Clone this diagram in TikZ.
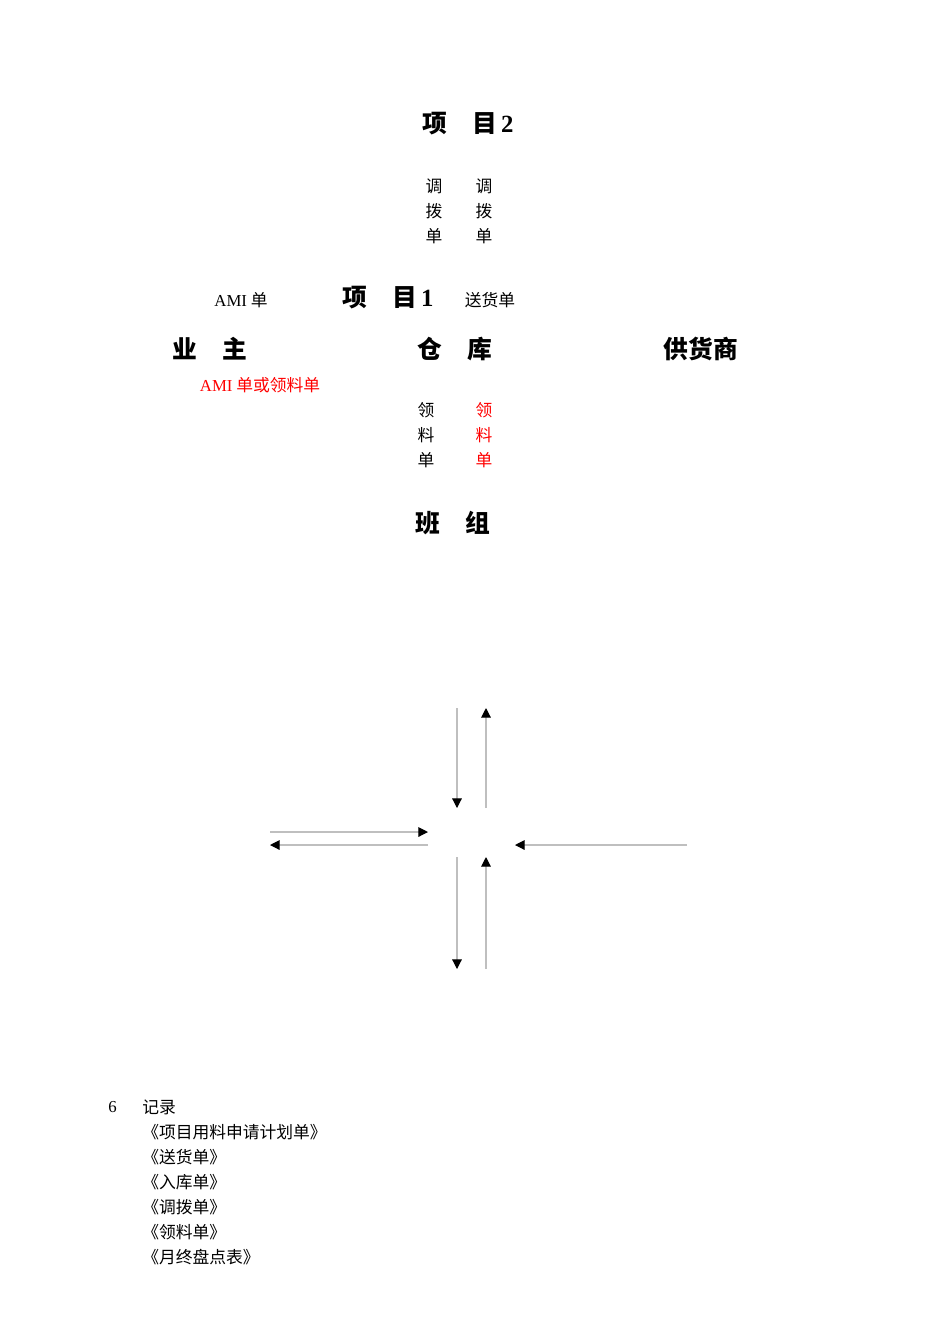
\documentclass[tikz,border=0pt]{standalone}
\usepackage{fontspec}
\usepackage{xcolor}
\usepackage{tikz}
\usetikzlibrary{arrows.meta}
\setmainfont{Liberation Serif}
\newfontfamily\cjk{Noto Sans CJK SC}

\tikzset{
  head/.style={font=\cjk\bfseries\fontsize{15.5}{18}\selectfont, inner sep=0pt},
  txt/.style={font=\cjk\fontsize{10.5}{15.7}\selectfont, inner sep=0pt, align=center},
  redtxt/.style={txt, text=red},
  flow/.style={draw=black!25, line width=0.7pt, -{Triangle[width=6pt,length=6pt,color=black]}}
}

\begin{document}
\begin{tikzpicture}[x=0.6263pt, y=-0.6263pt]
        \useasboundingbox (0,0) rectangle (950,1344);

        \node[head] (proj2) at (468,124) {项　目\,\rmfamily 2};
        \node[txt] (tiaoL) at (434,211) {调\\拨\\单};
        \node[txt] (tiaoR) at (484,211) {调\\拨\\单};

        \node[txt] (amiA) at (241,300) {{\rmfamily AMI} 单};
        \node[head] (proj1) at (388,298) {项　目\,\rmfamily 1};
        \node[txt] (song) at (490,300) {送货单};

        \node[head] (owner) at (210,349) {业　主};
        \node[head] (store) at (455,349) {仓　库};
        \node[head] (vendor) at (701,349) {供货商};

        \node[redtxt] (amiB) at (260,385) {{\rmfamily AMI} 单或领料单};
        \node[txt] (lingL) at (426,435) {领\\料\\单};
        \node[redtxt] (lingR) at (484,435) {领\\料\\单};

        \node[head] (team) at (453,523) {班　组};

        \coordinate (dn1s) at (457,708); \coordinate (dn1e) at (457,808);
        \coordinate (up1s) at (486,808); \coordinate (up1e) at (486,708);
        \coordinate (rt1s) at (270,832); \coordinate (rt1e) at (428,832);
        \coordinate (lf1s) at (428,845); \coordinate (lf1e) at (270,845);
        \coordinate (lf2s) at (687,845); \coordinate (lf2e) at (515,845);
        \coordinate (dn2s) at (457,857); \coordinate (dn2e) at (457,969);
        \coordinate (up2s) at (486,969); \coordinate (up2e) at (486,857);

        \draw[flow] (dn1s) -- (dn1e);
        \draw[flow] (up1s) -- (up1e);
        \draw[flow] (rt1s) -- (rt1e);
        \draw[flow] (lf1s) -- (lf1e);
        \draw[flow] (lf2s) -- (lf2e);
        \draw[flow] (dn2s) -- (dn2e);
        \draw[flow] (up2s) -- (up2e);

        \node[txt, anchor=west] (num6) at (108,1107) {\rmfamily 6};
        \node[txt, anchor=west] (rec) at (142,1107) {记录};
        \node[txt, anchor=west] (r1) at (142,1132) {《项目用料申请计划单》};
        \node[txt, anchor=west] (r2) at (142,1157) {《送货单》};
        \node[txt, anchor=west] (r3) at (142,1182) {《入库单》};
        \node[txt, anchor=west] (r4) at (142,1207) {《调拨单》};
        \node[txt, anchor=west] (r5) at (142,1232) {《领料单》};
        \node[txt, anchor=west] (r6) at (142,1257) {《月终盘点表》};
    \end{tikzpicture}
\end{document}
